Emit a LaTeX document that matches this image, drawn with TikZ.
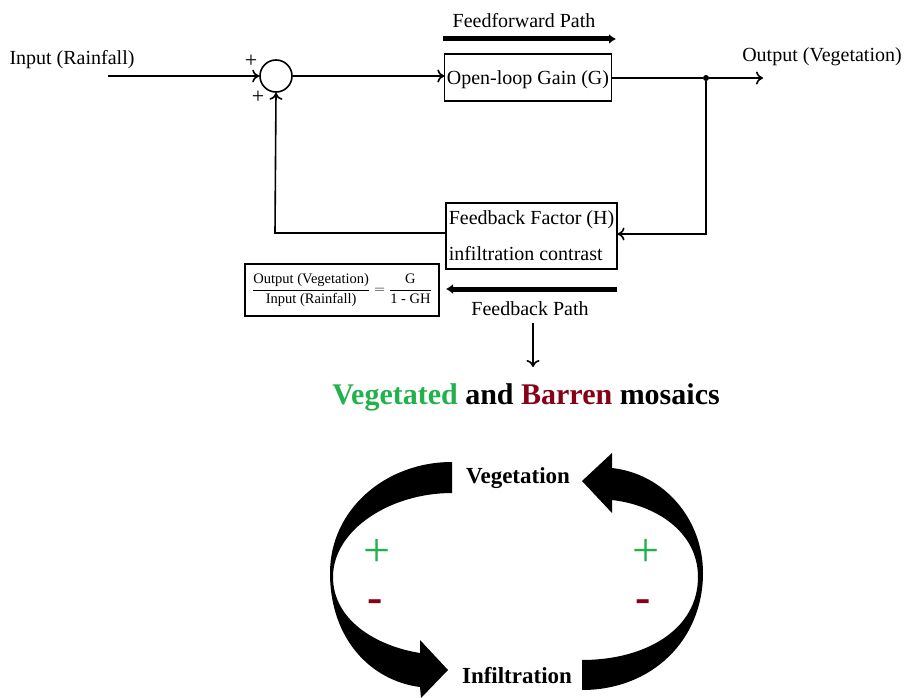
\documentclass[tikz,border=0pt]{standalone}
\usepackage{amsmath}
\usepackage{fontspec}
\setmainfont{Liberation Serif}
\usetikzlibrary{arrows.meta,%
                positioning}
\definecolor{vegGreen}{RGB}{34,177,76}
\definecolor{barRed}{RGB}{136,0,21}

\begin{document}
\begin{tikzpicture}[x=1pt,y=-1pt,font=\fontsize{20}{24}\selectfont]
  \tikzstyle{Block}=[draw,line width=1.1pt,inner sep=2pt]
  \tikzstyle{Wire}=[line width=1.6pt]
  \tikzstyle{Post}=[Wire,-{To[length=7pt,width=13pt]}]
  \tikzstyle{BigPost}=[line width=5pt,-{Latex[length=7pt,width=10pt]}]
  \tikzstyle{LoopLabel}=[font=\fontsize{23}{26}\selectfont\bfseries]
  \tikzstyle{SignStyle}=[font=\fontsize{48}{50}\selectfont]
  \useasboundingbox (0,0) rectangle (906,698);
  % block diagram
  \node (input) at (72,60) {Input (Rainfall)};
  \coordinate (inStart) at (108,76);
  \node[draw,circle,line width=1.6pt,minimum size=32pt,inner sep=0pt] (sum) at (276,76) {};
  \node[font=\fontsize{22}{24}\selectfont] (plusA) at (251,61) {+};
  \node[font=\fontsize{22}{24}\selectfont] (plusB) at (258,97) {+};
  \node[Block,minimum width=164pt,minimum height=47pt,text depth=0pt] (gain) at (528,77.5) {Open-loop Gain (G)};
  \node (ffwd) at (524,21) {Feedforward Path};
  \coordinate (ffA) at (443,39);
  \coordinate (ffB) at (616,39);
  \node[circle,fill,inner sep=0pt,minimum size=6pt] (split) at (706,78) {};
  \coordinate (outEnd) at (763,78);
  \node (output) at (822,57) {Output (Vegetation)};
  \node[Block,minimum width=171pt,minimum height=66pt,align=left,
        font=\fontsize{20}{36}\selectfont] (fback) at (531.5,236)
        {Feedback Factor (H)\\infiltration contrast};
  \coordinate (fbCorner) at (706,234);
  \coordinate (sumCorner) at (275,233);
  \node[Block,minimum width=194pt,minimum height=52pt,inner sep=3pt,
        font=\fontsize{14.5}{16}\selectfont] (ratio) at (342,290)
        {$\dfrac{\text{Output (Vegetation)}}{\text{Input (Rainfall)}}
          = \dfrac{\text{G}}{\text{1 - GH}}$};
  \coordinate (fbA) at (617,289);
  \coordinate (fbB) at (446,289);
  \node (fbpath) at (530,309) {Feedback Path};
  \coordinate (downEnd) at (533,367);

  \draw[Post] (inStart) -- (sum.west);
  \draw[Post] (sum.east) -- (gain.west |- sum.east);
  \draw[BigPost] (ffA) -- (ffB);
  \draw[Wire] (gain.east |- split) -- (split);
  \draw[Post] (split) -- (outEnd);
  \draw[Post] (split) -- (fbCorner) -- (fback.east |- fbCorner);
  \draw[Post] (fback.west |- sumCorner) -- (sumCorner) -- (sum.south);
  \draw[BigPost] (fbA) -- (fbB);
  \draw[Post] (fbpath.south -| downEnd) ++(0,3) -- (downEnd);

  % loop
  \node (title) at (526,397) {\fontsize{30}{34}\selectfont\bfseries
    \textcolor{vegGreen}{Vegetated} and \textcolor{barRed}{Barren} mosaics};
  \node[LoopLabel] (veg) at (518,478) {Vegetation};
  \node[LoopLabel] (infil) at (517,676) {Infiltration};
  % left arrow: vegetation -> infiltration
  \fill (452,462) .. controls (385,462) and (330,510) .. (330,573)
        .. controls (330,640) and (372,681) .. (420,687)
        -- (421,698) -- (448,670) -- (420,640) -- (420,653)
        .. controls (376,646) and (333,620) .. (333,577)
        .. controls (333,530) and (390,493) .. (452,493) -- cycle;
  % right arrow: infiltration -> vegetation
  \fill (582,481) -- (612,453) -- (612,468)
        .. controls (665,474) and (703,520) .. (703,573)
        .. controls (703,640) and (652,690) .. (582,690)
        -- (582,660)
        .. controls (645,660) and (698,630) .. (698,577)
        .. controls (698,532) and (656,505) .. (612,500)
        -- (612,513) -- cycle;
  \node[SignStyle,text=vegGreen] (posL) at (377,553) {+};
  \node[SignStyle,text=vegGreen] (posR) at (646,553) {+};
  \node[SignStyle,text=barRed,font=\fontsize{46}{50}\selectfont\bfseries] (negL) at (375,606) {-};
  \node[SignStyle,text=barRed,font=\fontsize{46}{50}\selectfont\bfseries] (negR) at (643,606) {-};
\end{tikzpicture}
\end{document}
